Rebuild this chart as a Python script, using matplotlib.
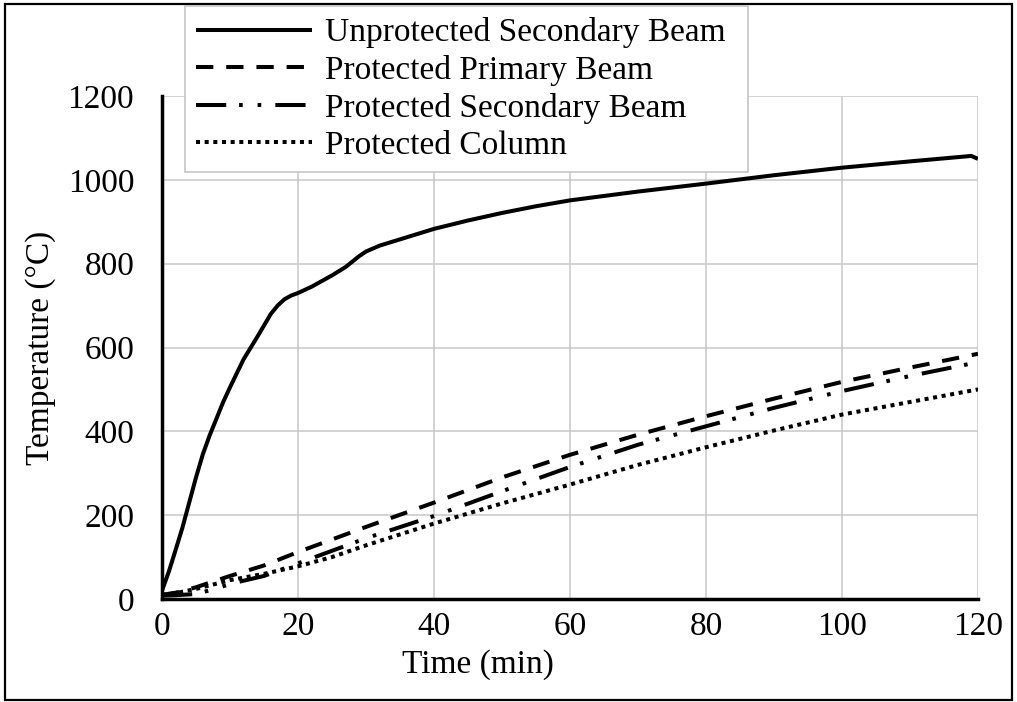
import numpy as np
import matplotlib
matplotlib.use('Agg')
import matplotlib.pyplot as plt
from matplotlib.patches import Rectangle

plt.rcParams['font.family'] = ['Liberation Serif', 'DejaVu Serif']

# --- temperature histories (min, degC) ---
t_unprot = [0, 1, 2, 3, 4, 5, 6, 7, 8, 9, 10, 12, 14, 16, 17, 18, 19, 20, 22,
            25, 27, 28, 29, 30, 32, 35, 40, 45, 50, 55, 60, 70, 80, 90, 100,
            110, 119, 120]
T_unprot = [20, 65, 117, 170, 230, 290, 345, 390, 430, 470, 505, 572, 625,
            680, 700, 715, 724, 730, 745, 772, 792, 805, 818, 829, 843, 858,
            883, 903, 921, 937, 951, 972, 991, 1011, 1029, 1044, 1057, 1050]

t_prim = [0, 2, 5, 10, 15, 20, 30, 40, 50, 60, 70, 80, 90, 100, 110, 120]
T_prim = [10, 15, 28, 55, 80, 112, 172, 230, 290, 344, 392, 436, 478, 518, 552, 585]

t_sec = [0, 2, 5, 8, 10, 15, 20, 25, 30, 40, 50, 60, 70, 80, 90, 100, 110, 120]
T_sec = [8, 9, 12, 25, 36, 55, 85, 115, 145, 198, 257, 315, 368, 412, 456, 496, 532, 565]

t_col = [0, 2, 5, 10, 15, 20, 25, 30, 40, 50, 60, 70, 80, 90, 100, 110, 120]
T_col = [10, 14, 24, 45, 60, 78, 100, 128, 180, 228, 273, 320, 362, 402, 440, 470, 500]

labels = ['Unprotected Secondary Beam', 'Protected Primary Beam',
          'Protected Secondary Beam', 'Protected Column']

fig = plt.figure(figsize=(10.17, 7.02), dpi=100)
ax = fig.add_axes([162/1017, 1 - 599/702, 816/1017, 503/702])

lw = 2.9
l1, = ax.plot(t_unprot, T_unprot, color='black', lw=lw,
              solid_capstyle='butt', solid_joinstyle='round')
l2, = ax.plot(t_prim, T_prim, color='black', lw=lw, dashes=(4.3, 3.2),
              dash_capstyle='butt')
l3, = ax.plot(t_sec, T_sec, color='black', lw=lw,
              dashes=(7.5, 3.2, 0.9, 3.7, 0.9, 3.5), dash_capstyle='butt')
l4, = ax.plot(t_col, T_col, color='black', lw=lw, dashes=(1.0, 1.15),
              dash_capstyle='butt')

ax.set_xlim(0, 120)
ax.set_ylim(0, 1200)
ax.set_xticks(np.arange(0, 121, 20))
ax.set_yticks(np.arange(0, 1201, 200))
ax.tick_params(axis='both', length=0, labelsize=24)
ax.tick_params(axis='x', pad=9)
ax.tick_params(axis='y', pad=20)
ax.grid(True, color='#c8c8c8', lw=1.1)
ax.set_axisbelow(True)

for s in ['top', 'right']:
    ax.spines[s].set_visible(False)
for s in ['left', 'bottom']:
    ax.spines[s].set_linewidth(2.5)
    ax.spines[s].set_color('black')
    ax.spines[s].set_zorder(3)

ax.set_xlabel('Time (min)', fontsize=24)
ax.xaxis.set_label_coords(0.387, -0.13)
ax.xaxis.label.set_va('center')
ax.set_ylabel('Temperature (°C)', fontsize=24)
ax.yaxis.set_label_coords(-0.149, 0.5)
ax.yaxis.label.set_va('center')

# legend box spans a fixed width across the top
leg = fig.legend([l1, l2, l3, l4], labels, loc='upper left',
                 bbox_to_anchor=(185/1017, 1 - 171/702, 563/1017, 165/702),
                 mode='expand', borderaxespad=0,
                 fontsize=24, handlelength=3.47, handletextpad=0.4,
                 labelspacing=0.2, borderpad=0.34, fancybox=False,
                 framealpha=1, edgecolor='#c0c0c0')
leg.get_frame().set_linewidth(1.1)

# outer border of the figure
fig.patches.append(Rectangle((5/1017, 2/702), 1007/1017, 696/702,
                             transform=fig.transFigure, fill=False,
                             edgecolor='black', lw=1.6))

fig.savefig('out.png', dpi=100)
